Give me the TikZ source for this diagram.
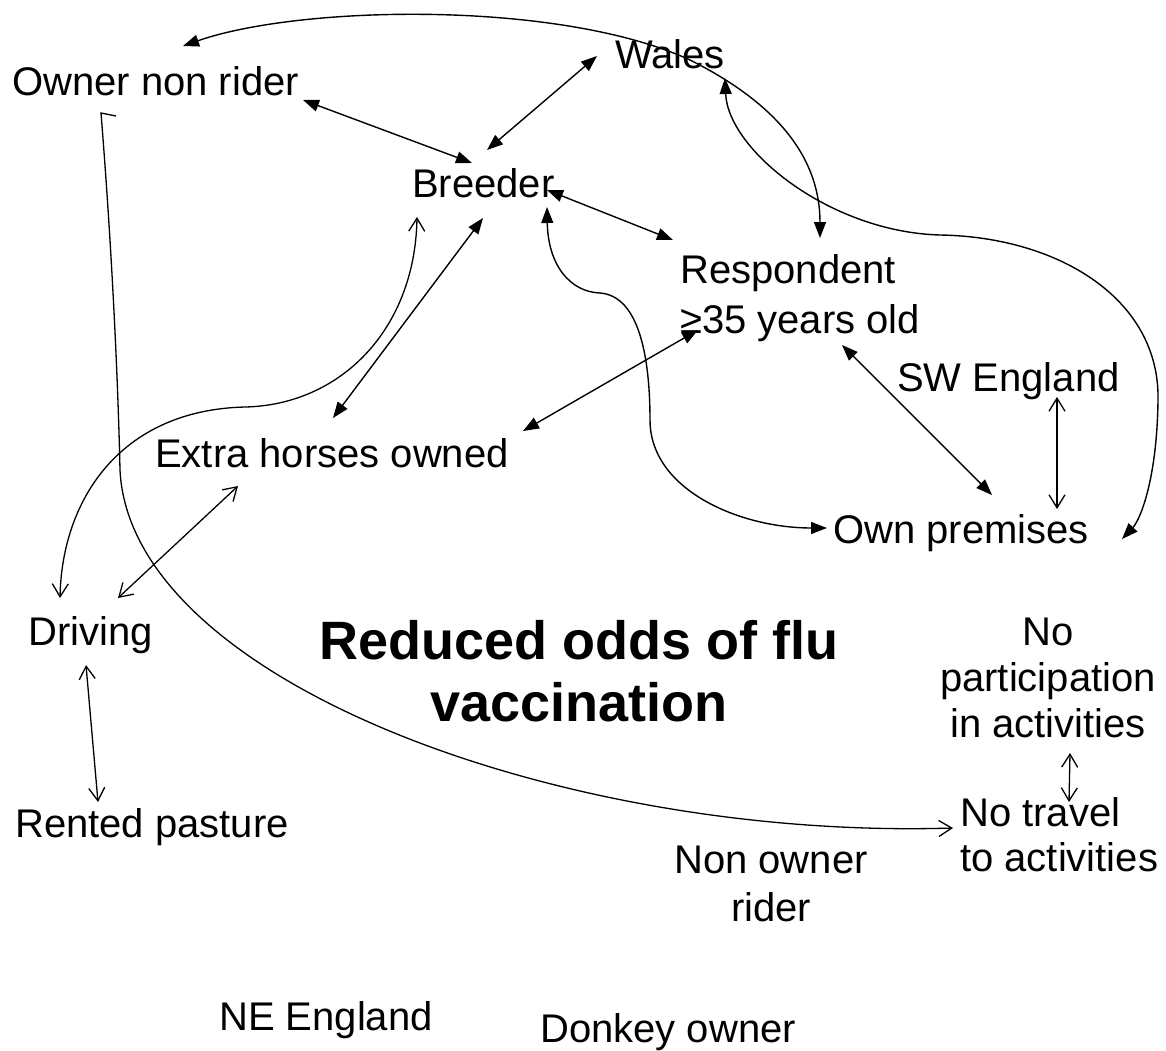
\documentclass[tikz,border=0pt]{standalone}
\usepackage{fontspec}
\setmainfont{Liberation Sans}
\usetikzlibrary{arrows.meta}
\begin{document}
\begin{tikzpicture}[x=1pt,y=-1pt,
  lbl/.style={inner sep=0pt, font=\fontsize{40}{48}\selectfont},
  solidlink/.style={line width=1.4pt,
    arrows={Triangle[length=16pt,width=12pt]-Triangle[length=16pt,width=12pt]}},
  openlink/.style={line width=1.3pt,
    arrows={Straight Barb[length=13pt,width=16pt]-Straight Barb[length=13pt,width=16pt]}},
  openend/.style={line width=1.3pt,
    arrows={-Straight Barb[length=13pt,width=16pt]}},
]
\fill[white] (0,0) rectangle (1166,1051);
\useasboundingbox (0,0) rectangle (1166,1051);

% factor labels
\node[lbl, anchor=base west] (owner) at (12,96) {Owner non rider};
\node[lbl, anchor=base west] (wales) at (615,69) {Wales};
\node[lbl, anchor=base west] (breeder) at (412,197) {Breeder};
\node[lbl, anchor=north west, align=left, font=\fontsize{40}{50}\selectfont] (resp) at (680,254) {Respondent\\≥35 years old};
\node[lbl, anchor=base west] (sw) at (897,391) {SW England};
\node[lbl, anchor=base west] (extra) at (155,467) {Extra horses owned};
\node[lbl, anchor=base west] (own) at (833,543) {Own premises};
\node[lbl, anchor=base west] (driving) at (28,645) {Driving};
\node[lbl, anchor=base west] (rented) at (15,837) {Rented pasture};
\node[lbl, anchor=north, align=center, font=\fontsize{40}{46}\selectfont] (nopart) at (1048,618) {No\\participation\\in activities};
\node[lbl, anchor=north west, align=left, font=\fontsize{40}{45}\selectfont] (notravel) at (960,797) {No travel\\to activities};
\node[lbl, anchor=north, align=center, font=\fontsize{40}{48}\selectfont] (nonowner) at (771,846) {Non owner\\rider};
\node[lbl, anchor=base west] (ne) at (219,1030) {NE England};
\node[lbl, anchor=base west] (donkey) at (540,1042) {Donkey owner};

% outcome
\node[inner sep=0pt, anchor=north, align=center, font=\fontsize{54}{62}\selectfont\bfseries] (title) at (579,620) {Reduced odds of flu\\vaccination};

% straight links, filled heads
\draw[solidlink] ([shift={(291,4)}]owner.base west) -- ([shift={(60,-34)}]breeder.base west);
\draw[solidlink] ([shift={(-18,-13)}]wales.base west) -- ([shift={(75,-47)}]breeder.base west);
\draw[solidlink] ([shift={(135,-7)}]breeder.base west) -- ([shift={(-7,-14)}]resp.north west);
\draw[solidlink] ([shift={(71,21)}]breeder.base west) -- ([shift={(178,-49)}]extra.base west);
\draw[solidlink] ([shift={(18,76)}]resp.north west) -- ([shift={(368,-36)}]extra.base west);
\draw[solidlink] ([shift={(162,91)}]resp.north west) -- ([shift={(159,-48)}]own.base west);

% curved links, filled heads
\draw[solidlink] ([shift={(171,-50)}]owner.base west)
  .. controls (300,5) and (560,0) .. (690,60)
  .. controls (780,105) and (820,160) .. ([shift={(140,-16)}]resp.north west);
\draw[solidlink] ([shift={(110,9)}]wales.base west)
  .. controls (728,150) and (830,232) .. (940,235)
  .. controls (1060,237) and (1160,300) .. (1158,400)
  .. controls (1157,480) and (1140,520) .. ([shift={(289,-4)}]own.base west);
\draw[solidlink] ([shift={(135,10)}]breeder.base west)
  .. controls (548,265) and (570,292) .. (600,293)
  .. controls (640,296) and (650,360) .. (650,420)
  .. controls (650,490) and (740,528) .. ([shift={(-6,-15)}]own.base west);

% links with open heads
\draw[openlink] ([shift={(160,6)}]sw.base west) -- ([shift={(224,-34)}]own.base west);
\draw[openlink] ([shift={(83,19)}]extra.base west) -- ([shift={(90,-47)}]driving.base west);
\draw[openlink] ([shift={(58,20)}]driving.base west) -- ([shift={(83,-35)}]rented.base west);
\draw[openlink] ([shift={(22,135)}]nopart.north) -- ([shift={(109,5)}]notravel.north west);
\draw[openlink] ([shift={(5,20)}]breeder.base west)
  .. controls (415,330) and (340,405) .. (245,407)
  .. controls (120,410) and (62,500) .. ([shift={(32,-47)}]driving.base west);
\draw[openend] ([shift={(104,20)}]owner.base west) -- ([shift={(89,17)}]owner.base west)
  .. controls (112,250) and (118,380) .. (120,470)
  .. controls (130,680) and (560,840) .. ([shift={(-7,31)}]notravel.north west);
\end{tikzpicture}
\end{document}
